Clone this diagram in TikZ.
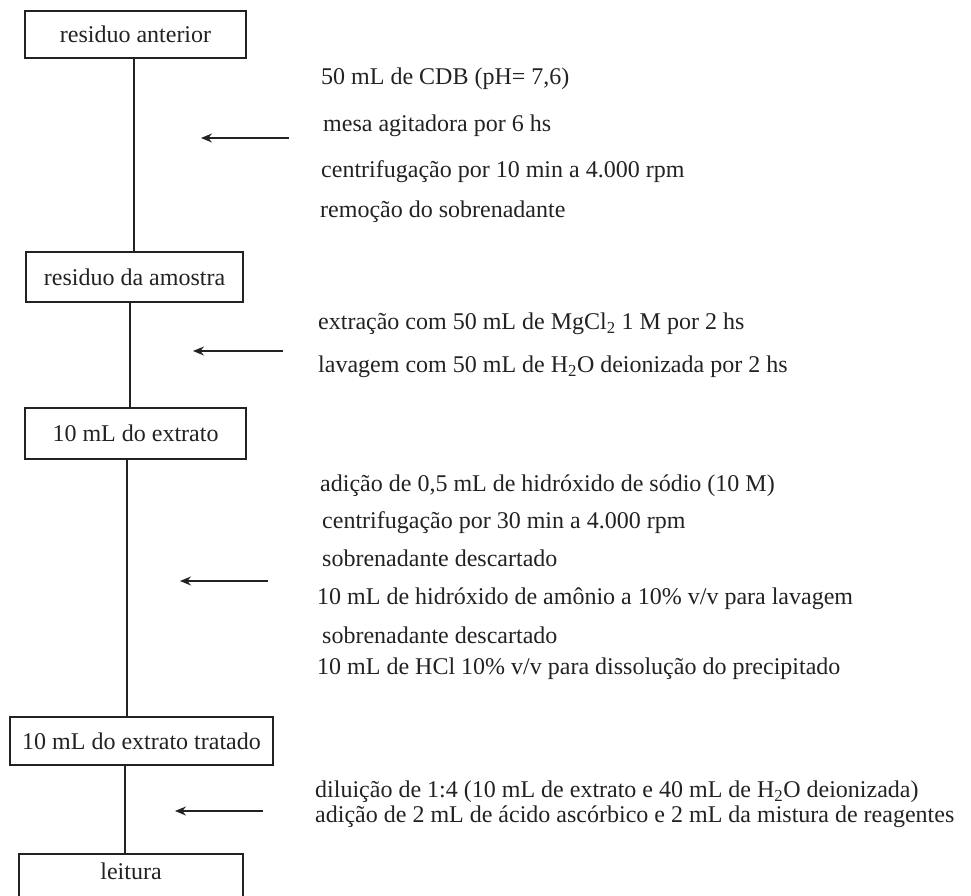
\documentclass[tikz,border=0pt]{standalone}
\usepackage{fontspec}
\setmainfont{Liberation Serif}
\usetikzlibrary{arrows.meta}
\definecolor{ink}{HTML}{222222}
\begin{document}
\begin{tikzpicture}[x=1pt,y=-1pt,
  stepbox/.style={draw=ink,line width=1.3pt,inner sep=0pt,text=ink,font=\fontsize{24}{28}\selectfont},
  lbl/.style={anchor=mid west,inner sep=0pt,text=ink,font=\fontsize{24}{28}\selectfont},
  conn/.style={draw=ink,line width=1.3pt},
  arr/.style={draw=ink,line width=1.2pt,-{Stealth[length=11pt,width=9pt]}}]
\useasboundingbox (0,0) rectangle (971,896);
\clip (0,0) rectangle (971,896);
% boxes
\node[stepbox,minimum width=221pt,minimum height=47pt] (b1) at (135.5,34.5) {residuo anterior};
\node[stepbox,minimum width=217pt,minimum height=50pt] (b2) at (134.5,277) {residuo da amostra};
\node[stepbox,minimum width=221pt,minimum height=51pt] (b3) at (135.5,433.5) {10 mL do extrato};
\node[stepbox,minimum width=263pt,minimum height=48pt] (b4) at (141.5,741) {10 mL do extrato tratado};
\node[stepbox,minimum width=224pt,minimum height=60pt] (b5) at (131,884) {};
\node[lbl,anchor=mid] (t5) at (131,877) {leitura};
% vertical connectors
\draw[conn] (b1.south -| 134,0) -- (b2.north -| 134,0);
\draw[conn] (b2.south -| 130,0) -- (b3.north -| 130,0);
\draw[conn] (b3.south -| 127,0) -- (b4.north -| 127,0);
\draw[conn] (b4.south -| 125,0) -- (b5.north -| 125,0);
% arrows
\coordinate (a1s) at (289,138); \coordinate (a1e) at (201,138);
\coordinate (a2s) at (283,351); \coordinate (a2e) at (193,351);
\coordinate (a3s) at (268,581); \coordinate (a3e) at (180,581);
\coordinate (a4s) at (263,811); \coordinate (a4e) at (175,811);
\draw[arr] (a1s) -- (a1e);
\draw[arr] (a2s) -- (a2e);
\draw[arr] (a3s) -- (a3e);
\draw[arr] (a4s) -- (a4e);
% group 1
\node[lbl] (g1a) at (321,82) {50 mL de CDB (pH= 7,6)};
\node[lbl] (g1b) at (323,129) {mesa agitadora por 6 hs};
\node[lbl] (g1c) at (321,175) {centrifugação por 10 min a 4.000 rpm};
\node[lbl] (g1d) at (320,215) {remoção do sobrenadante};
% group 2
\node[lbl] (g2a) at (318,327) {extração com 50 mL de MgCl\textsubscript{2} 1 M por 2 hs};
\node[lbl] (g2b) at (318,370) {lavagem com 50 mL de H\textsubscript{2}O deionizada por 2 hs};
% group 3
\node[lbl] (g3a) at (320,489) {adição de 0,5 mL de hidróxido de sódio (10 M)};
\node[lbl] (g3b) at (322,526) {centrifugação por 30 min a 4.000 rpm};
\node[lbl] (g3c) at (322,564) {sobrenadante descartado};
\node[lbl] (g3d) at (317,602) {10 mL de hidróxido de amônio a 10\% v/v para lavagem};
\node[lbl] (g3e) at (322,641) {sobrenadante descartado};
\node[lbl] (g3f) at (317,672) {10 mL de HCl 10\% v/v para dissolução do precipitado};
% group 4
\node[lbl] (g4a) at (315,795) {diluição de 1:4 (10 mL de extrato e 40 mL de H\textsubscript{2}O deionizada)};
\node[lbl] (g4b) at (315,820) {adição de 2 mL de ácido ascórbico e 2 mL da mistura de reagentes};
\end{tikzpicture}
\end{document}
